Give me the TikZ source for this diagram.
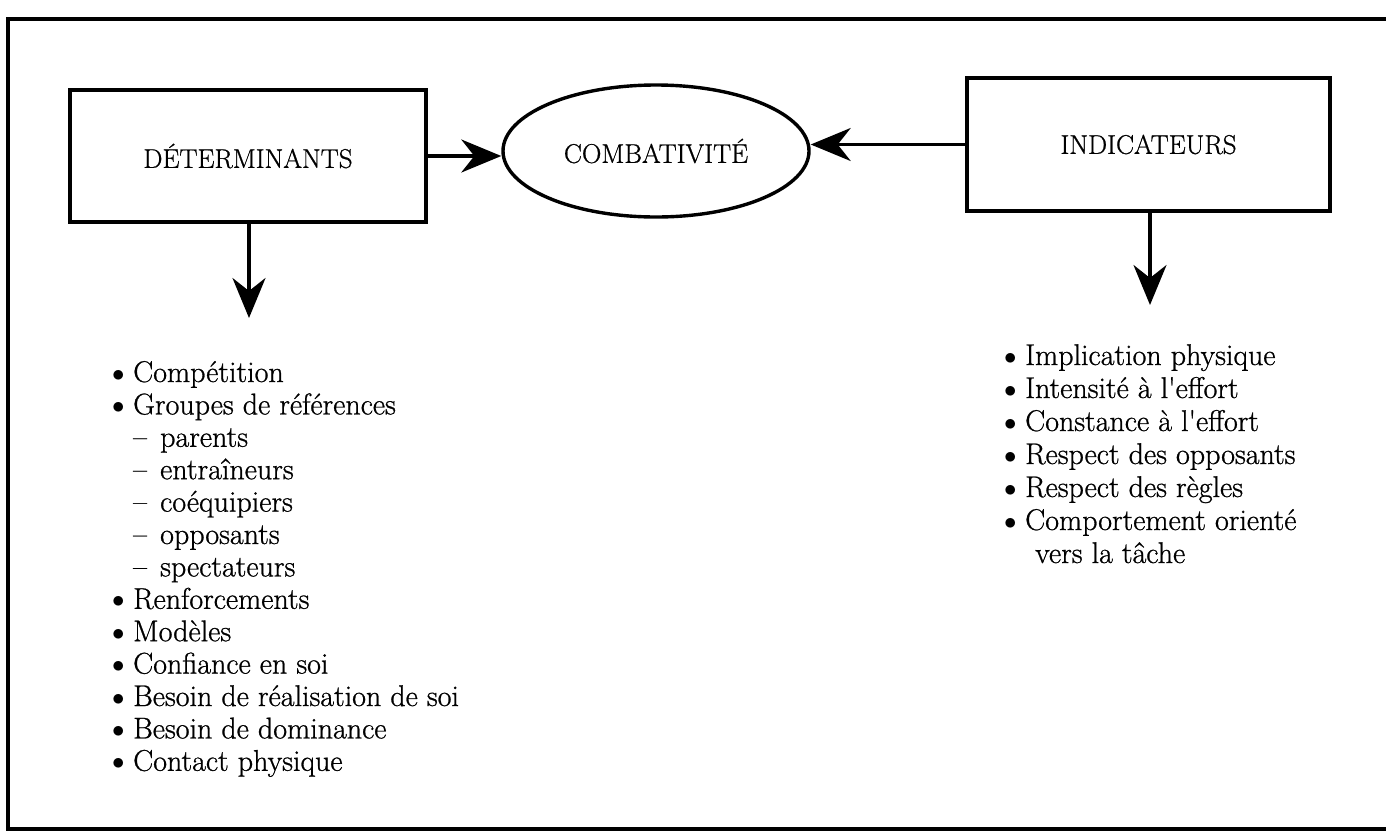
\documentclass[tikz,border=0pt]{standalone}
\usepackage{fontspec}
\usetikzlibrary{arrows.meta,shapes.geometric}

% slightly heavier serif for all labels
\newfontfamily\txtfont{Latin Modern Roman}[Ligatures=TeX,FakeBold=0.8]

% list entries: bullet item and dashed sub-item
\newcommand\bul[1]{\makebox[21pt][l]{\raisebox{1pt}{$\bullet$}}#1}
\newcommand\dsh[1]{\makebox[21pt][l]{}\makebox[27pt][l]{\textendash}#1}

\tikzset{
  box/.style={draw, line width=3.4pt, rectangle, inner sep=0pt,
              font=\txtfont\fontsize{27}{30}\selectfont},
  oval/.style={draw, line width=3.4pt, ellipse, inner sep=0pt,
               font=\txtfont\fontsize{27}{30}\selectfont},
  link/.style={line width=3.4pt,
               -{Stealth[length=40pt,width=33pt,inset=13pt]}},
  entry/.style={anchor=base west, inner sep=0pt,
                font=\txtfont\fontsize{30}{32}\selectfont},
  frame/.style={draw, line width=3.8pt}
}

\begin{document}
\begin{tikzpicture}[x=1pt,y=-1pt]
  \useasboundingbox (0,0) rectangle (1386,836);
  \clip (0,0) rectangle (1386,836);
  \fill[white] (0,0) rectangle (1386,836);

  % outer frame, right side runs past the edge
  \draw[frame] (8,19) rectangle (1400,829);

  % main nodes
  \node[box, minimum width=356pt, minimum height=132pt] (det) at (248,156) {DÉTERMINANTS};
  \node[oval, minimum width=306pt, minimum height=132pt] (comb) at (656,151) {COMBATIVITÉ};
  \node[box, minimum width=363pt, minimum height=133pt] (ind) at (1148.5,144.5) {INDICATEURS};

  % connectors
  \draw[link] (det.east) -- (det.east -| comb.west);
  \draw[link] (ind.west) -- (ind.west -| comb.east);
  \coordinate (detend) at (249,318);
  \coordinate (indend) at (1150,305);
  \draw[link] (det.south -| detend) -- (detend);
  \draw[link] (ind.south -| indend) -- (indend);

  % determinants list
  \foreach \txt [count=\i] in {
      {\bul{Compétition}},
      {\bul{Groupes de références}},
      {\dsh{parents}},
      {\dsh{entraîneurs}},
      {\dsh{coéquipiers}},
      {\dsh{opposants}},
      {\dsh{spectateurs}},
      {\bul{Renforcements}},
      {\bul{Modèles}},
      {\bul{Confiance en soi}},
      {\bul{Besoin de réalisation de soi}},
      {\bul{Besoin de dominance}},
      {\bul{Contact physique}}}
    \node[entry] (d\i) at (112, 382+32.4*\i-32.4) {\txt};

  % indicators list
  \foreach \txt [count=\i] in {
      {\bul{Implication physique}},
      {\bul{Intensité à l\textquotesingle effort}},
      {\bul{Constance à l\textquotesingle effort}},
      {\bul{Respect des opposants}},
      {\bul{Respect des règles}},
      {\bul{Comportement orienté}},
      {\makebox[31pt][l]{}vers la tâche}}
    \node[entry] (r\i) at (1004, 365+33*\i-33) {\txt};
\end{tikzpicture}
\end{document}
